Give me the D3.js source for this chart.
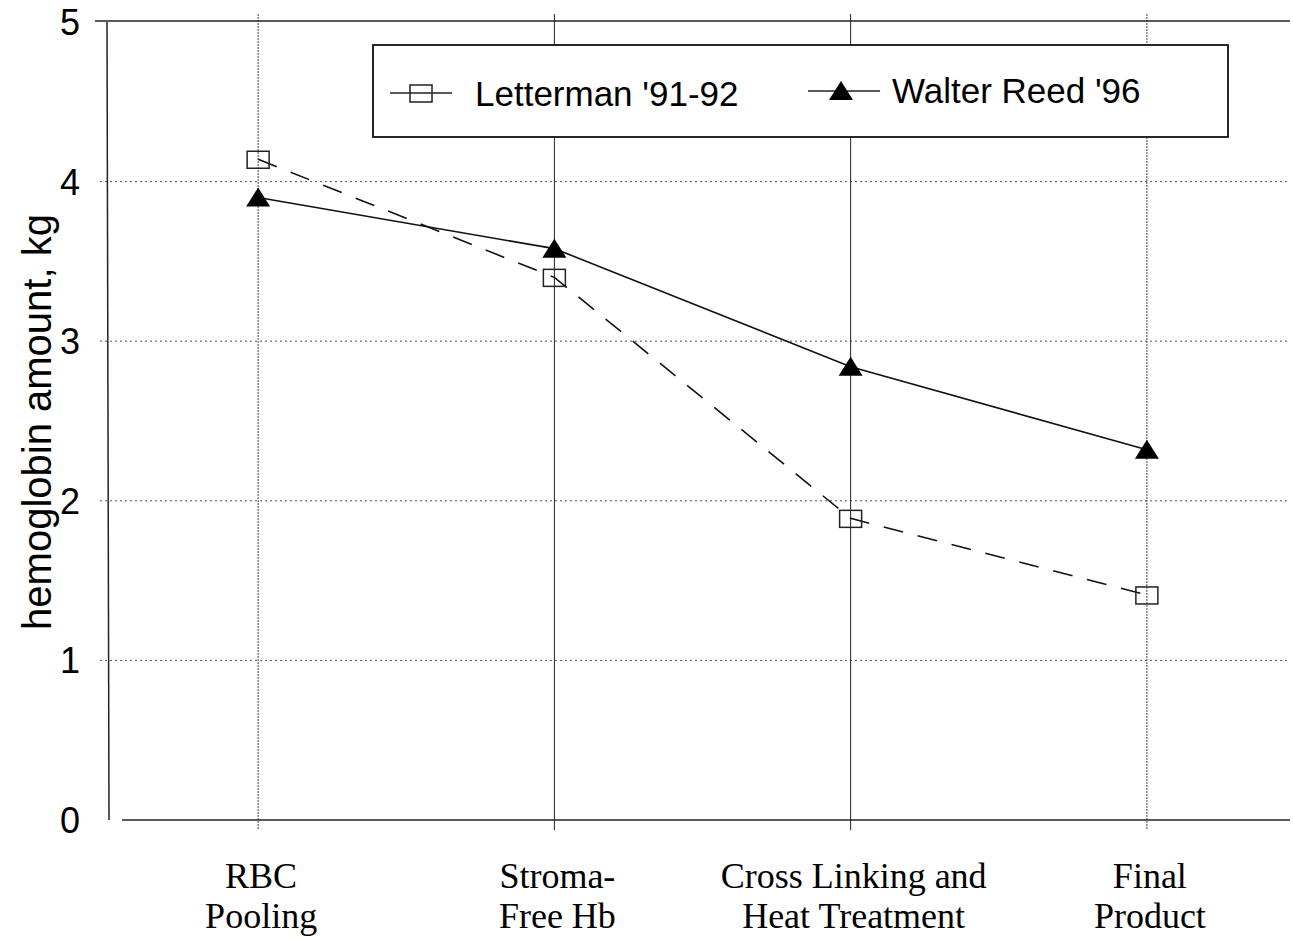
<!DOCTYPE html>
<html><head><meta charset="utf-8">
<script src="https://cdn.jsdelivr.net/npm/d3@7"></script>
<style>body{margin:0;background:#fff}svg{display:block}</style>
</head><body>
<svg id="c" width="1293" height="939"></svg>
<script>
const categories = [["RBC","Pooling"],["Stroma-","Free Hb"],["Cross Linking and","Heat Treatment"],["Final","Product"]];
const letterman = [4.14, 3.40, 1.89, 1.41];
const walterReed = [3.90, 3.58, 2.84, 2.32];
const yTicks = [0,1,2,3,4,5];
const seriesNames = ["Letterman '91-92", "Walter Reed '96"];

const svg = d3.select("#c");
const x = d3.scalePoint().domain(d3.range(categories.length)).range([110,1295]).padding(0.5);
const y = d3.scaleLinear().domain([0,5]).range([820,22]);
const sans = "Liberation Sans, Arial, sans-serif";
const serif = "Liberation Serif, Times New Roman, serif";

// gridlines
const g = svg.append("g");
yTicks.filter(t=>t>0&&t<5).forEach(t=>{
  g.append("line").attr("x1",100).attr("x2",1290).attr("y1",y(t)).attr("y2",y(t))
   .attr("stroke","#555").attr("stroke-width",1).attr("stroke-dasharray","2,3");
});
categories.forEach((c,i)=>{
  const solid = (i===1||i===2);
  g.append("line").attr("x1",x(i)).attr("x2",x(i)).attr("y1",14).attr("y2",830)
   .attr("stroke", solid?"#222":"#444").attr("stroke-width",1)
   .attr("stroke-dasharray", solid?null:"2,1");
});
// frame
svg.append("line").attr("x1",95).attr("x2",1290).attr("y1",y(5)-1).attr("y2",y(5)-1).attr("stroke","#222").attr("stroke-width",1.5);
svg.append("line").attr("x1",107).attr("x2",109).attr("y1",y(5)).attr("y2",y(0)).attr("stroke","#222").attr("stroke-width",1.5);
svg.append("line").attr("x1",122).attr("x2",1290).attr("y1",y(0)).attr("y2",y(0)).attr("stroke","#222").attr("stroke-width",1.5);

// y tick labels
yTicks.forEach(t=>{
  svg.append("text").attr("x",80).attr("y",y(t)+13).attr("text-anchor","end")
   .attr("font-family",sans).attr("font-size",36).text(t);
});
// y title
svg.append("text").attr("transform","translate(51,422) rotate(-90)").attr("text-anchor","middle")
 .attr("font-family",sans).attr("font-size",40).text("hemoglobin amount, kg");

// x labels
categories.forEach((c,i)=>{
  c.forEach((line,j)=>{
    svg.append("text").attr("x",x(i)+3).attr("y",888+j*40).attr("text-anchor","middle")
     .attr("font-family",serif).attr("font-size",36).text(line);
  });
});

const line = d3.line().x((d,i)=>x(i)).y(d=>y(d));
svg.append("path").attr("d",line(letterman)).attr("fill","none").attr("stroke","#111")
 .attr("stroke-width",1.6).attr("stroke-dasharray","20,15");
svg.append("path").attr("d",line(walterReed)).attr("fill","none").attr("stroke","#111").attr("stroke-width",1.6);

function square(sel,cx,cy){
  sel.append("rect").attr("x",cx-11).attr("y",cy-8).attr("width",22).attr("height",17)
   .attr("fill","none").attr("stroke","#222").attr("stroke-width",1.5);
}
function tri(sel,cx,cy){
  sel.append("path").attr("d",`M${cx},${cy-10}L${cx+12},${cy+9}L${cx-12},${cy+9}Z`).attr("fill","#000");
}
letterman.forEach((v,i)=>square(svg,x(i),y(v)));
walterReed.forEach((v,i)=>tri(svg,x(i),y(v)));

// legend
const lg = svg.append("g");
lg.append("rect").attr("x",373).attr("y",45).attr("width",855).attr("height",92)
 .attr("fill","#fff").attr("stroke","#111").attr("stroke-width",1.8);
lg.append("line").attr("x1",390).attr("x2",452).attr("y1",93).attr("y2",93).attr("stroke","#222").attr("stroke-width",1.3);
square(lg,421,93);
lg.append("text").attr("x",475).attr("y",106).attr("font-family",sans).attr("font-size",35).text(seriesNames[0]);
lg.append("line").attr("x1",808).attr("x2",880).attr("y1",91).attr("y2",91).attr("stroke","#222").attr("stroke-width",1.3);
tri(lg,841,91);
lg.append("text").attr("x",892).attr("y",103).attr("font-family",sans).attr("font-size",35).text(seriesNames[1]);
</script>
</body></html>
